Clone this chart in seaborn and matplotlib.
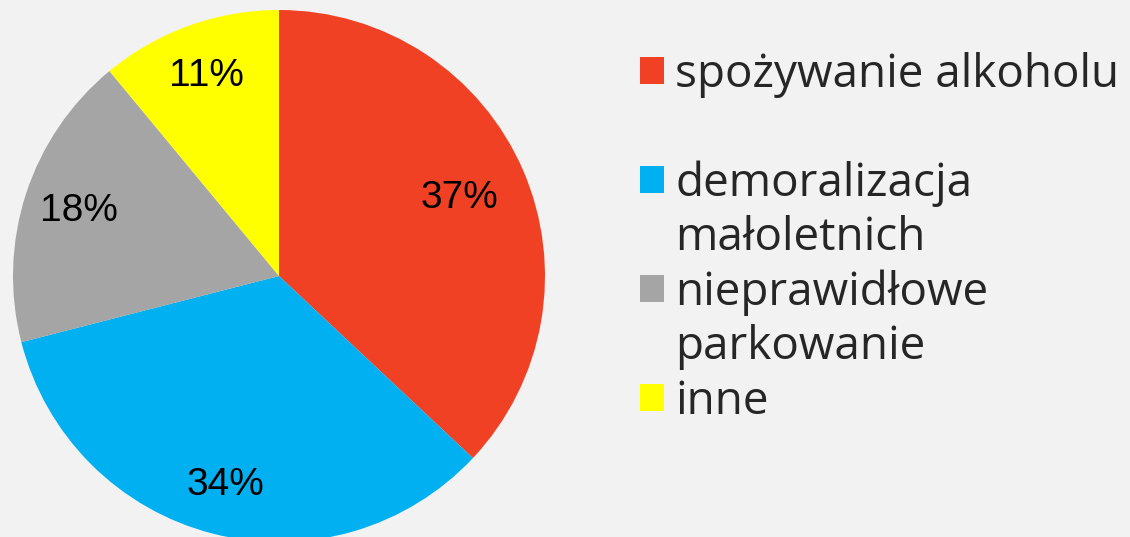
"""
Pie chart: share of offence categories.
"""

import matplotlib.pyplot as plt
import numpy as np
import seaborn as sns
from matplotlib.patches import Patch

# Data
categories = ["spożywanie alkoholu", "demoralizacja\nmałoletnich",
              "nieprawidłowe\nparkowanie", "inne"]
shares = [37, 34, 18, 11]
colors = ["#F04124", "#00B0F0", "#A5A5A5", "#FFFF00"]
label_dist = [0.74, 0.81, 0.79, 0.80]

BG = "#F2F2F2"

sns.set_theme(style="white")
plt.rcParams["font.family"] = ["Liberation Sans", "DejaVu Sans"]

fig = plt.figure(figsize=(11.3, 5.37), dpi=100)
fig.patch.set_facecolor(BG)

# pie axes: centre at (279, 276) px, radius 266 px
W, H = 1130, 537
cx, cy, r = 279, 276, 266
ax = fig.add_axes([(cx - r) / W, (H - cy - r) / H, 2 * r / W, 2 * r / H])
ax.set_facecolor("none")

wedges, _, autotexts = ax.pie(
    shares,
    colors=colors,
    startangle=90,
    counterclock=False,
    autopct="%1.0f%%",
    pctdistance=0.78,
    wedgeprops=dict(linewidth=0),
    textprops=dict(fontsize=28, color="black"),
)
# nudge each percentage to its own distance from the centre
for wedge, txt, d in zip(wedges, autotexts, label_dist):
    ang = np.deg2rad((wedge.theta1 + wedge.theta2) / 2)
    txt.set_position((d * np.cos(ang), d * np.sin(ang)))

ax.set_xlim(-1, 1)
ax.set_ylim(-1, 1)
ax.set_aspect("equal")
ax.axis("off")

# legend: one row per text line, square only on the first line of an entry;
# every entry except the last takes two rows
handles, labels = [], []
for k, (wedge, cat) in enumerate(zip(wedges, categories)):
    lines = cat.split("\n")
    if len(lines) < 2 and k < len(categories) - 1:
        lines.append("")
    for i, line in enumerate(lines):
        if i == 0:
            handles.append(Patch(facecolor=wedge.get_facecolor(), edgecolor="none"))
        else:
            handles.append(Patch(facecolor="none", edgecolor="none"))
        labels.append(line)

fig.legend(
    handles, labels,
    loc="upper left",
    bbox_to_anchor=(640 / W, 1 - 52 / H),
    frameon=False,
    prop=dict(family="Open Sans", size=33),
    handlelength=0.52,
    handleheight=0.52,
    handletextpad=0.25,
    labelspacing=0.18,
    borderpad=0,
    borderaxespad=0,
)

fig.savefig("out.png", dpi=100, facecolor=BG)
